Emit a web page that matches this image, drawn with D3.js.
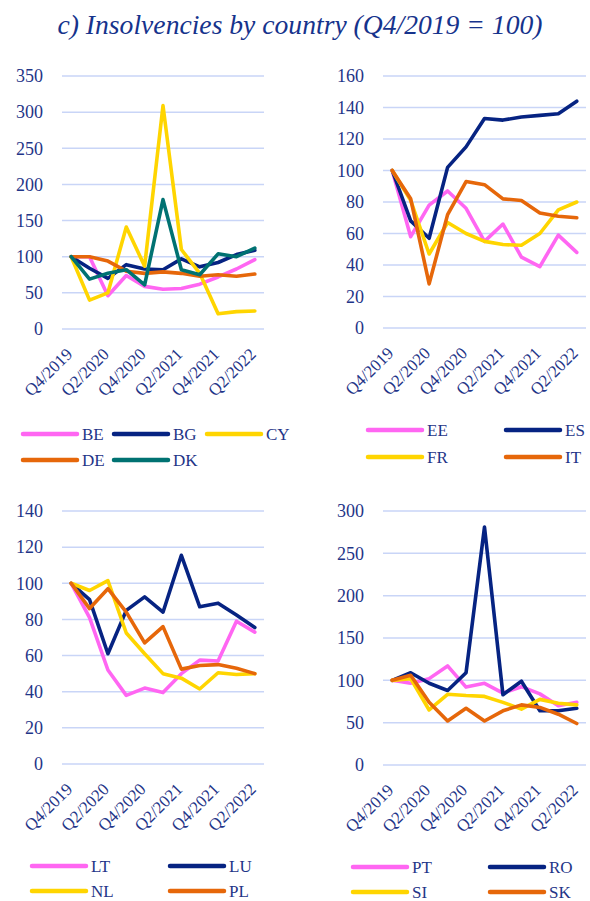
<!DOCTYPE html>
<meta charset="utf-8">
<style>
    body { margin: 0; background: #fff; }
    text { font-family: "Liberation Serif", "DejaVu Serif", serif; fill: #1f3588; }
    .grid line { stroke: #c9d5f7; stroke-width: 1.5px; }
    .series { fill: none; stroke-width: 3.6px; stroke-linejoin: round; stroke-linecap: round; }
</style>
<body>
<script src="https://cdn.jsdelivr.net/npm/d3@7"></script>
<script>

var quarters = ["Q4/2019", "Q1/2020", "Q2/2020", "Q3/2020", "Q4/2020", "Q1/2021",
                "Q2/2021", "Q3/2021", "Q4/2021", "Q1/2022", "Q2/2022"];
var tickLabels = ["Q4/2019", "Q2/2020", "Q4/2020", "Q2/2021", "Q4/2021", "Q2/2022"];

// panel a
var BE = [100, 100, 46, 74, 59, 55, 56, 62, 72, 83, 96];
var BG = [100, 84, 70, 89, 83, 82, 97, 86, 92, 103, 109];
var CY = [100, 40, 50, 141, 87, 309, 110, 77, 21, 24, 25];
var DE = [100, 100, 94, 80, 77, 79, 77, 73, 75, 73, 76];
var DK = [100, 69, 77, 82, 61, 179, 82, 75, 104, 100, 112];
// panel b
var EE = [100, 58, 78, 87, 76, 55, 66, 45, 39, 59, 48];
var ES = [100, 68, 57, 102, 115, 133, 132, 134, 135, 136, 144];
var FR = [100, 81, 47, 67, 60, 55, 53, 52.5, 60, 75, 80];
var IT = [100, 82, 28, 72, 93, 91, 82, 81, 73, 71, 70];
// panel c
var LT = [100, 81, 52, 38, 42, 39.5, 50, 57.5, 57, 79, 73];
var LU = [100, 91, 61, 85, 92.5, 84, 115.5, 87, 89, 82.5, 75.5];
var NL = [100, 96, 101.5, 72.5, 61, 50, 47.5, 41.5, 50.5, 49.5, 50];
var PL = [100, 86, 97, 84, 67, 76, 52.5, 54.5, 55, 53, 50];
// panel d
var PT = [100, 96.5, 102, 117, 92, 96.5, 85, 92.5, 84, 70, 74];
var RO = [100, 109, 96.5, 88, 109, 281, 83, 99, 64, 64, 67];
var SI = [100, 102, 65, 83.5, 82, 81, 74, 66, 77.5, 73, 71];
var SK = [100, 106, 74, 52, 67, 52, 64, 71, 68, 60, 49];

var pink = "#ff66f2", navy = "#062382", yellow = "#ffd500", orange = "#e6670a", teal = "#007272";

var panels = [
    { x0: 62, x1: 264, y0: 76, y1: 329, max: 350, step: 50,
      series: [["BE", BE, pink], ["BG", BG, navy], ["CY", CY, yellow], ["DE", DE, orange], ["DK", DK, teal]],
      legend: { top: 434, rowGap: 26, cols: [23, 114, 207], perRow: 3 } },
    { x0: 383, x1: 586, y0: 76, y1: 328, max: 160, step: 20,
      series: [["EE", EE, pink], ["ES", ES, navy], ["FR", FR, yellow], ["IT", IT, orange]],
      legend: { top: 430, rowGap: 27, cols: [368, 506], perRow: 2 } },
    { x0: 62, x1: 264, y0: 511, y1: 764, max: 140, step: 20,
      series: [["LT", LT, pink], ["LU", LU, navy], ["NL", NL, yellow], ["PL", PL, orange]],
      legend: { top: 866, rowGap: 25, cols: [32, 170], perRow: 2 } },
    { x0: 383, x1: 586, y0: 511, y1: 765, max: 300, step: 50,
      series: [["PT", PT, pink], ["RO", RO, navy], ["SI", SI, yellow], ["SK", SK, orange]],
      legend: { top: 867, rowGap: 25, cols: [353, 490], perRow: 2 } }
];

var svg = d3.select("body").append("svg")
    .attr("width", 590)
    .attr("height", 901);

svg.append("text")
    .attr("x", 300).attr("y", 34)
    .attr("text-anchor", "middle")
    .attr("textLength", 485).attr("lengthAdjust", "spacingAndGlyphs")
    .style("font-style", "italic")
    .style("font-size", "28px")
    .style("fill", "#16338c")
    .text("c) Insolvencies by country (Q4/2019 = 100)");

panels.forEach(function (p) {
    var x = d3.scalePoint().domain(quarters).range([p.x0, p.x1]).padding(0.5);
    var y = d3.scaleLinear().domain([0, p.max]).range([p.y1, p.y0]);
    var g = svg.append("g");

    var ticks = d3.range(0, p.max + 1, p.step);
    g.append("g").attr("class", "grid")
        .selectAll("line").data(ticks).enter().append("line")
        .attr("x1", p.x0).attr("x2", p.x1)
        .attr("y1", function (d) { return y(d); }).attr("y2", function (d) { return y(d); });

    g.selectAll("text.ytick").data(ticks).enter().append("text")
        .attr("class", "ytick")
        .attr("x", p.x0 - 19).attr("y", function (d) { return y(d); })
        .attr("dy", "0.35em")
        .attr("text-anchor", "end")
        .style("font-size", "18px")
        .text(function (d) { return d; });

    g.selectAll("text.xtick").data(tickLabels).enter().append("text")
        .attr("class", "xtick")
        .attr("transform", function (d) { return "translate(" + (x(d) - 2) + "," + (p.y1 + 22) + ") rotate(-45)"; })
        .attr("text-anchor", "end")
        .attr("dy", "0.35em")
        .style("font-size", "17px")
        .text(function (d) { return d; });

    var line = d3.line()
        .x(function (d, i) { return x(quarters[i]); })
        .y(function (d) { return y(d); });

    p.series.forEach(function (s) {
        g.append("path").attr("class", "series")
            .attr("stroke", s[2])
            .attr("d", line(s[1]));
    });

    var lg = g.append("g");
    p.series.forEach(function (s, i) {
        var col = i % p.legend.perRow, row = Math.floor(i / p.legend.perRow);
        var lx = p.legend.cols[col], ly = p.legend.top + row * p.legend.rowGap;
        lg.append("line")
            .attr("x1", lx).attr("x2", lx + 54)
            .attr("y1", ly).attr("y2", ly)
            .attr("stroke", s[2]).attr("stroke-width", 4.5).attr("stroke-linecap", "round");
        lg.append("text")
            .attr("x", lx + 59).attr("y", ly)
            .attr("dy", "0.35em")
            .style("font-size", "17px")
            .text(s[0]);
    });
});

</script>
</body>
